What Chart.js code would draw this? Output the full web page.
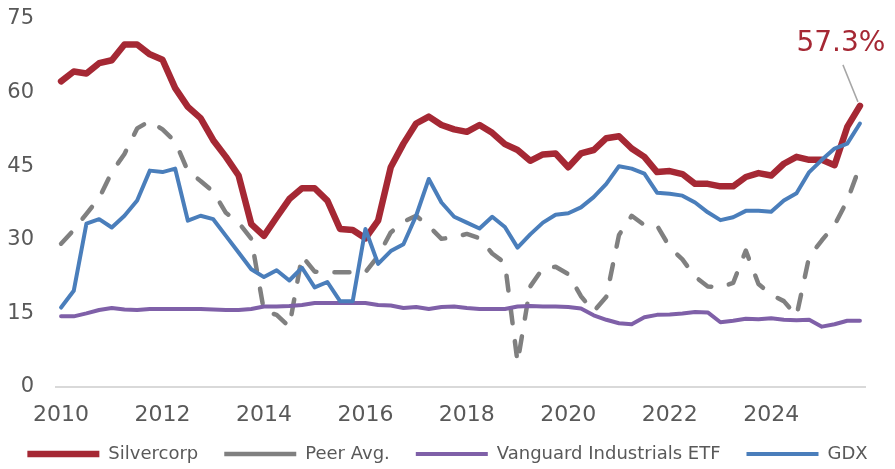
<!DOCTYPE html>
<html>
<head>
<meta charset="utf-8">
<script src="https://cdn.jsdelivr.net/npm/chart.js@4.4.0/dist/chart.umd.min.js"></script>
<style>
  html, body { margin: 0; padding: 0; background: #fff; }
  #wrap { width: 895px; height: 469px; position: relative; }
</style>
</head>
<body>
<div id="wrap"><canvas id="chart"></canvas></div>
<script>
// quarterly points, 2010 Q1 .. 2025 Q4
const quarters = [];
for (let y = 2010; y <= 2025; y++) {
    for (let q = 0; q < 4; q++) quarters.push(y + q / 4);
}
const tickYears = [2010, 2012, 2014, 2016, 2018, 2020, 2022, 2024];
const yTicks = [0, 15, 30, 45, 60, 75];

const silvercorp = [62.3, 64.3, 63.9, 66.0, 66.6, 69.8, 69.8, 67.8, 66.7, 60.9,
    57.1, 54.8, 50.3, 46.9, 43.1, 33.2, 30.8, 34.6, 38.3, 40.5,
    40.5, 38.0, 32.2, 32.0, 30.3, 33.9, 44.8, 49.6, 53.7, 55.1,
    53.4, 52.5, 52.0, 53.4, 51.8, 49.5, 48.3, 46.1, 47.4, 47.6,
    44.8, 47.6, 48.3, 50.7, 51.1, 48.6, 46.9, 43.8, 44.0, 43.4,
    41.4, 41.4, 40.9, 40.9, 42.8, 43.6, 43.1, 45.5, 46.9, 46.3,
    46.3, 45.2, 53.0, 57.3];
const peerAvg = [29.2, 32.0, 35.3, 38.5, 43.8, 47.5, 52.7, 54.2, 52.5, 50.0,
    44.0, 42.0, 39.8, 35.5, 33.5, 30.2, 15.5, 14.7, 12.3, 26.7,
    23.5, 23.4, 23.4, 23.4, 23.4, 26.7, 31.5, 33.7, 34.9, 32.8,
    30.2, 30.5, 31.2, 30.3, 27.2, 25.3, 5.0, 20.5, 24.2, 24.5,
    23.0, 18.5, 15.4, 18.4, 31.0, 34.9, 33.0, 32.9, 28.5, 26.0,
    22.5, 20.5, 20.3, 21.2, 27.8, 21.0, 18.8, 17.5, 14.5, 26.6,
    29.9, 33.0, 38.0, 45.0];
const vanguard = [14.4, 14.4, 15.0, 15.7, 16.1, 15.8, 15.7, 15.9, 15.9, 15.9,
    15.9, 15.9, 15.8, 15.7, 15.7, 15.9, 16.4, 16.4, 16.5, 16.7,
    17.1, 17.1, 17.1, 17.1, 17.1, 16.7, 16.6, 16.1, 16.3, 15.9,
    16.3, 16.4, 16.1, 15.9, 15.9, 15.9, 16.4, 16.5, 16.4, 16.4,
    16.3, 16.0, 14.6, 13.7, 13.0, 12.8, 14.2, 14.7, 14.8, 15.0,
    15.3, 15.2, 13.2, 13.5, 13.9, 13.8, 14.0, 13.7, 13.6, 13.7,
    12.3, 12.8, 13.5, 13.5];
const gdx = [16.2, 19.6, 33.3, 34.2, 32.5, 34.9, 38.0, 44.1, 43.8, 44.5,
    33.9, 34.9, 34.2, 30.8, 27.4, 24.0, 22.4, 23.8, 21.7, 24.3,
    20.3, 21.4, 17.5, 17.5, 32.2, 25.1, 27.7, 29.1, 34.9, 42.4,
    37.6, 34.7, 33.5, 32.3, 34.7, 32.6, 28.4, 31.1, 33.5, 35.1,
    35.4, 36.6, 38.7, 41.4, 45.0, 44.5, 43.5, 39.6, 39.4, 39.0,
    37.6, 35.6, 34.0, 34.6, 35.9, 35.9, 35.7, 38.0, 39.5, 43.8,
    46.3, 48.6, 49.6, 53.7];

const FONT = "'DejaVu Sans', sans-serif";
const RED = '#A52834';

function toPoints(values) {
    return values.map((v, i) => ({x: quarters[i], y: v}));
}

// "57.3%" callout on the last Silvercorp point
const endLabel = {
    id: 'endLabel',
    afterDatasetsDraw(chart) {
        const pt = chart.getDatasetMeta(0).data[silvercorp.length - 1];
        const ctx = chart.ctx;
        ctx.save();
        ctx.strokeStyle = '#A6A6A6';
        ctx.lineWidth = 1.5;
        ctx.beginPath();
        ctx.moveTo(pt.x - 2, pt.y - 4);
        ctx.lineTo(pt.x - 17, pt.y - 41);
        ctx.stroke();
        ctx.fillStyle = RED;
        ctx.font = '28px ' + FONT;
        ctx.textAlign = 'center';
        ctx.textBaseline = 'middle';
        ctx.fillText(silvercorp[silvercorp.length - 1].toFixed(1) + '%', pt.x - 19, pt.y - 62);
        ctx.restore();
    }
};

// legend padding is large (for item spacing), pull the row up a bit
const legendNudge = {
    id: 'legendNudge',
    afterLayout(chart) {
        chart.legend.top -= 10;
        chart.legend.bottom -= 10;
    }
};

new Chart(document.getElementById('chart'), {
    type: 'line',
    data: {
        datasets: [{
            label: 'Silvercorp',
            data: toPoints(silvercorp),
            borderColor: RED,
            backgroundColor: RED,
            borderWidth: 6.5,
            order: 4
        }, {
            label: 'Peer Avg.',
            data: toPoints(peerAvg),
            borderColor: '#808080',
            backgroundColor: '#808080',
            borderWidth: 4.5,
            borderDash: [15, 18],
            order: 3
        }, {
            label: 'Vanguard Industrials ETF',
            data: toPoints(vanguard),
            borderColor: '#7F60A8',
            backgroundColor: '#7F60A8',
            borderWidth: 4,
            order: 2
        }, {
            label: 'GDX',
            data: toPoints(gdx),
            borderColor: '#4A7EBB',
            backgroundColor: '#4A7EBB',
            borderWidth: 4,
            order: 1
        }]
    },
    options: {
        responsive: true,
        maintainAspectRatio: false,
        animation: false,
        layout: {padding: {top: 19, right: 0, left: 0, bottom: -14}},
        elements: {
            point: {radius: 0, hoverRadius: 0},
            line: {tension: 0, borderCapStyle: 'round', borderJoinStyle: 'round'}
        },
        scales: {
            x: {
                type: 'linear',
                min: 2009.9,
                max: 2025.85,
                afterBuildTicks(scale) {
                    scale.ticks = tickYears.map(v => ({value: v}));
                },
                afterFit(scale) {
                    scale.height = 42;
                    scale.paddingLeft = 0;
                    scale.paddingRight = 0;
                },
                grid: {display: false, drawTicks: false},
                border: {display: true, color: '#D9D9D9', width: 2},
                ticks: {
                    color: '#595959',
                    font: {family: FONT, size: 22},
                    padding: 15,
                    maxRotation: 0,
                    callback: v => String(v)
                }
            },
            y: {
                min: 0,
                max: 75,
                afterBuildTicks(scale) {
                    scale.ticks = yTicks.map(v => ({value: v}));
                },
                afterFit(scale) {
                    scale.width = 56;
                    scale.paddingTop = 0;
                    scale.paddingBottom = 0;
                },
                grid: {display: false, drawTicks: false},
                border: {display: false},
                ticks: {
                    color: '#595959',
                    font: {family: FONT, size: 21},
                    padding: 22
                }
            },
            // empty right margin so the plot ends where the reference axis ends
            yRight: {
                type: 'linear',
                axis: 'y',
                position: 'right',
                afterFit(scale) {
                    scale.width = 30;
                    scale.paddingTop = 0;
                    scale.paddingBottom = 0;
                },
                grid: {display: false, drawTicks: false},
                border: {display: false},
                ticks: {display: false}
            }
        },
        plugins: {
            legend: {
                position: 'bottom',
                labels: {
                    usePointStyle: true,
                    pointStyle: 'line',
                    pointStyleWidth: 72,
                    padding: 26,
                    color: '#595959',
                    font: {family: FONT, size: 18},
                    sort: (a, b) => a.datasetIndex - b.datasetIndex
                }
            },
            tooltip: {enabled: false}
        }
    },
    plugins: [endLabel, legendNudge]
});
</script>
</body>
</html>
